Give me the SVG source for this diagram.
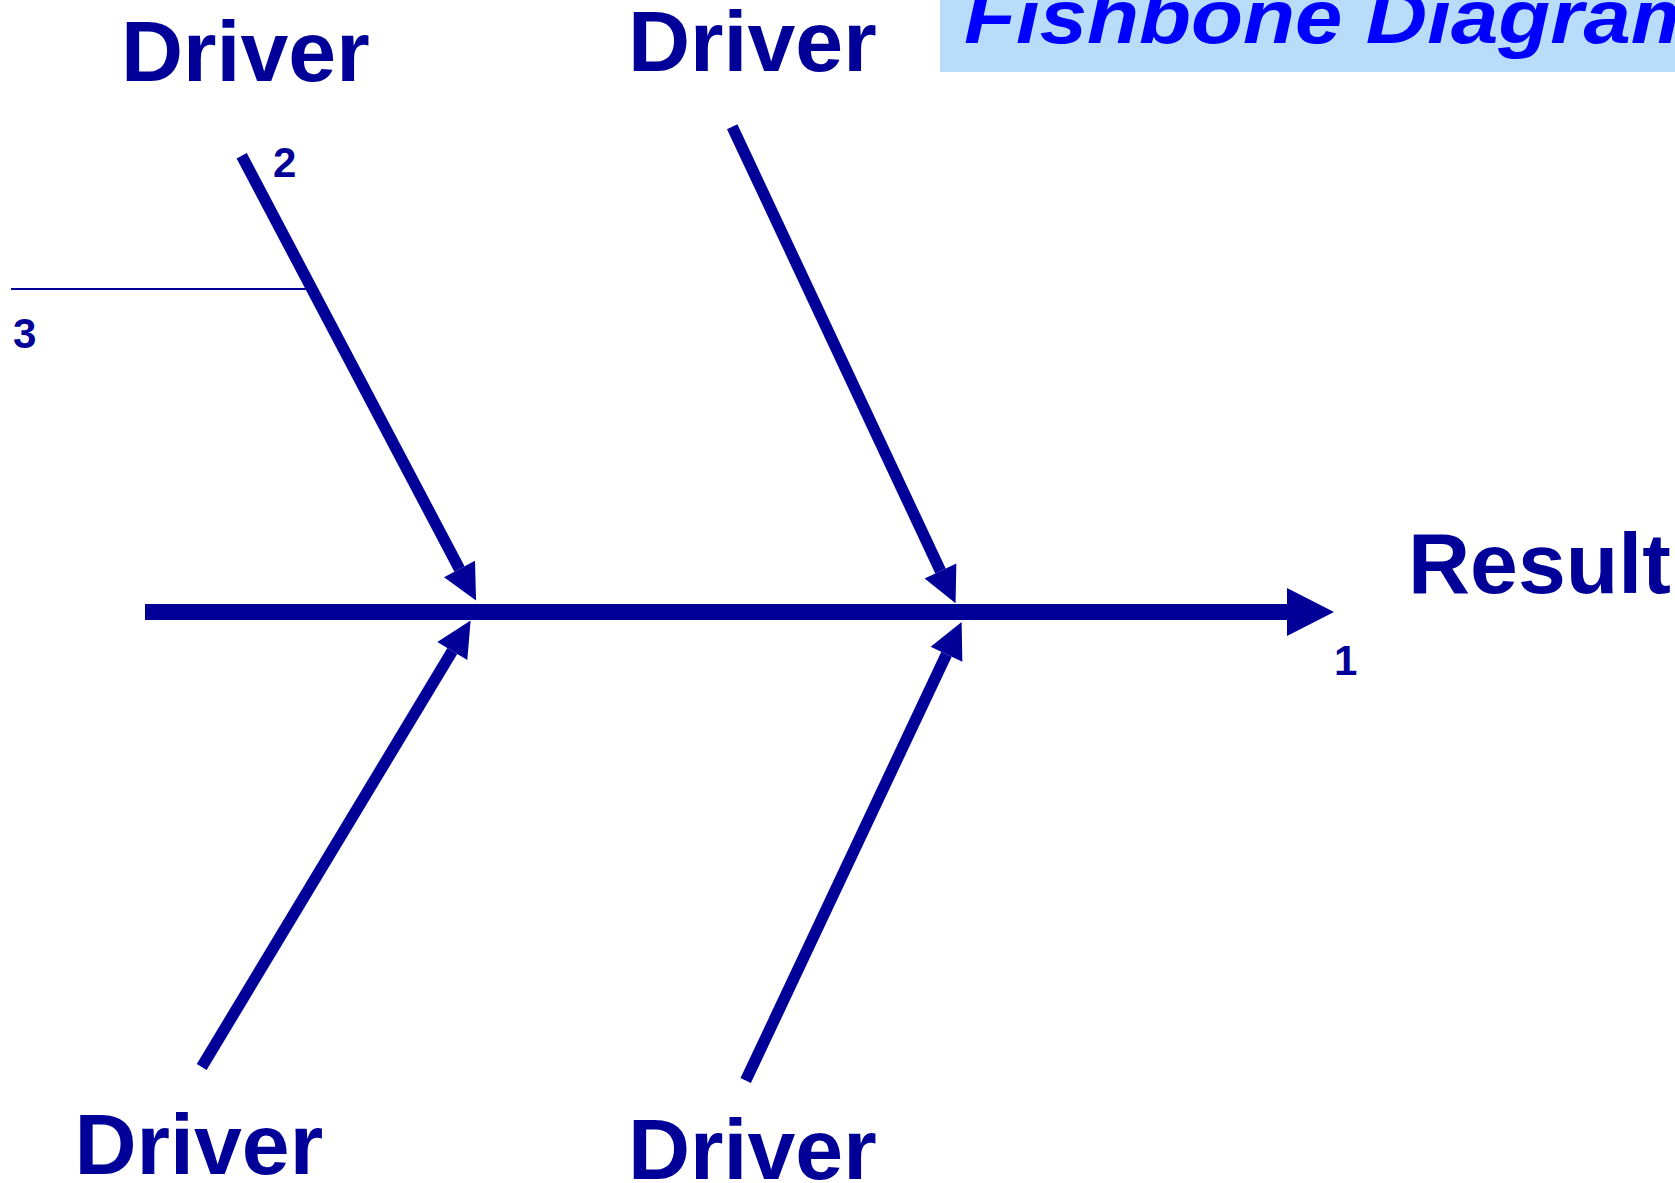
<svg xmlns="http://www.w3.org/2000/svg" width="1675" height="1183" viewBox="0 0 1675 1183">
  <style>
    .lbl { font-family: "Liberation Sans", Arial, sans-serif; font-weight: bold; fill: #000099; }
    .big { font-size: 86px; }
    .num { font-size: 42px; }
    .bone { stroke: #000099; stroke-width: 11.5; fill: none; stroke-linecap: butt; }
    .title { font-family: "Liberation Sans", Arial, sans-serif; font-weight: bold; font-style: italic; font-size: 76px; fill: #0000FF; }
  </style>
  <defs>
    <marker id="boneHead" markerUnits="userSpaceOnUse" orient="auto" refX="0" refY="0" markerWidth="40" markerHeight="40" viewBox="-1 -20 40 40" overflow="visible">
      <path d="M0,-17.5 L35.5,0 L0,17.5 Z" fill="#000099"/>
    </marker>
    <marker id="spineHead" markerUnits="userSpaceOnUse" orient="auto" refX="0" refY="0" markerWidth="52" markerHeight="52" viewBox="-1 -26 52 52" overflow="visible">
      <path d="M0,-24 L47,0 L0,24 Z" fill="#000099"/>
    </marker>
  </defs>
  <rect width="1675" height="1183" fill="#FFFFFF"/>

  <g id="title">
    <rect x="940" y="0" width="735" height="72" fill="#B9DCFB"/>
    <text class="title" transform="translate(964,43) scale(1.12,1)">Fishbone Diagram</text>
  </g>

  <g id="connectors">
    <line class="bone" x1="145" y1="612" x2="1287" y2="612" style="stroke-width:16" marker-end="url(#spineHead)"/>
    <line class="bone" x1="241.7" y1="155.8" x2="459.5" y2="569" marker-end="url(#boneHead)"/>
    <line class="bone" x1="732.2" y1="126.7" x2="940.5" y2="571" marker-end="url(#boneHead)"/>
    <line class="bone" x1="201.7" y1="1067" x2="452.3" y2="651" marker-end="url(#boneHead)"/>
    <line class="bone" x1="745.7" y1="1080.5" x2="946.5" y2="654.2" marker-end="url(#boneHead)"/>
    <line x1="11" y1="289" x2="308" y2="289" stroke="#000099" stroke-width="2"/>
  </g>

  <g id="driver-top-left">
    <text class="lbl big" x="121" y="81">Driver</text>
  </g>
  <g id="driver-top-middle">
    <text class="lbl big" x="628" y="70.5">Driver</text>
  </g>
  <g id="driver-bottom-left">
    <text class="lbl big" x="74.5" y="1174">Driver</text>
  </g>
  <g id="driver-bottom-middle">
    <text class="lbl big" x="628" y="1179">Driver</text>
  </g>
  <g id="result">
    <text class="lbl big" x="1408" y="593">Result</text>
  </g>
  <g id="labels">
    <text class="lbl num" x="1334" y="675">1</text>
    <text class="lbl num" x="273" y="177">2</text>
    <text class="lbl num" x="13" y="348">3</text>
  </g>
</svg>
